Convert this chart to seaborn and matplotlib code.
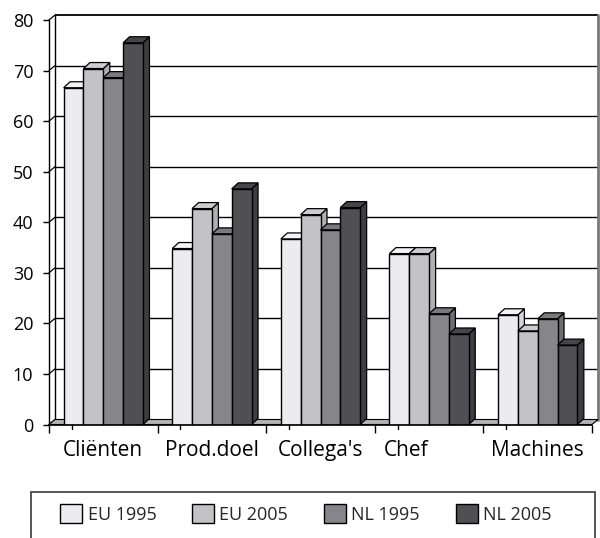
import numpy as np
import pandas as pd
import matplotlib
matplotlib.use("Agg")
import matplotlib.pyplot as plt
import seaborn as sns
from matplotlib.patches import Polygon, Patch, Rectangle
from matplotlib import transforms

# ---- data ----
categories = ["Cliënten", "Prod.doel", "Collega's", "Chef", "Machines"]
series = ["EU 1995", "EU 2005", "NL 1995", "NL 2005"]
eu_1995 = [66.6, 34.8, 36.7, 33.8, 21.7]
eu_2005 = [70.4, 42.7, 41.5, 33.8, 18.5]
nl_1995 = [68.6, 37.7, 38.5, 21.9, 20.9]
nl_2005 = [75.5, 46.6, 42.9, 17.9, 15.7]
y_ticks = [0, 10, 20, 30, 40, 50, 60, 70, 80]

front_colors = ["#ECECEE", "#C3C3C5", "#86868A", "#4F4F54"]
side_colors = ["#D6D6D8", "#B0B0B2", "#6E6E72", "#3E3E42"]
top_colors = ["#F4F4F6", "#CDCDCF", "#7A7A7E", "#46464A"]

sns.set_theme(style="white")
plt.rcParams["font.family"] = ["Open Sans", "DejaVu Sans"]

df = pd.DataFrame({
    "category": categories * 4,
    "series": sum([[s] * len(categories) for s in series], []),
    "value": eu_1995 + eu_2005 + nl_1995 + nl_2005,
})

W, H = 600, 538
fig = plt.figure(figsize=(W / 100, H / 100), dpi=100)
ax_left, ax_right, ax_bottom_px, ax_top_px = 49, 592, 424.5, 20
ax = fig.add_axes([ax_left / W, (H - ax_bottom_px) / H,
                   (ax_right - ax_left) / W, (ax_bottom_px - ax_top_px) / H])

sns.barplot(data=df, x="category", y="value", hue="series", order=categories,
            hue_order=series, palette=front_colors, width=0.73, saturation=1,
            edgecolor="black", linewidth=1, ax=ax, legend=False)

ax.set_xlim(-0.5, 4.5)
ax.set_ylim(0, 80)
for s in ax.spines.values():
    s.set_visible(False)
ax.set_xlabel("")
ax.set_ylabel("")
ax.set_facecolor("none")

# pixel -> data units
ux = 5 / (ax_right - ax_left)
uy = 80 / (ax_bottom_px - ax_top_px)
DX, DY = 6 * ux, 5 * uy          # walls
BDX, BDY = 6.5 * ux, 6 * uy      # bar depth
x0, x1 = -0.5, 4.5

# back wall
ax.add_patch(Rectangle((x0 + DX, DY), 5, 80, facecolor="white", edgecolor="none",
                       zorder=0, clip_on=False))
for v in y_ticks:
    lw = 1.3 if v == 80 else 1.0
    ax.plot([x0 + DX, x1 + DX], [v + DY, v + DY], color="black", lw=lw,
            zorder=0.5, clip_on=False, solid_capstyle="butt")
    ax.plot([x0, x0 + DX], [v, v + DY], color="black", lw=0.9, zorder=0.5, clip_on=False)
ax.plot([x0 + DX, x0 + DX], [DY, 80 + DY], color="black", lw=1, zorder=0.5, clip_on=False)
ax.plot([x1 + DX, x1 + DX], [DY, 80 + DY], color="#7a7a7a", lw=2, zorder=0.5, clip_on=False)
ax.plot([x0, x0], [0, 80], color="black", lw=1, zorder=0.6, clip_on=False)

# floor
ax.add_patch(Polygon([(x0, 0), (x1, 0), (x1 + DX, DY), (x0 + DX, DY)],
                     closed=True, facecolor="#B4B4B4", edgecolor="black", lw=0.8,
                     zorder=1, clip_on=False))

# 3D faces for bars
for k, cont in enumerate(ax.containers):
    for bar in cont:
        x, w, h = bar.get_x(), bar.get_width(), bar.get_height()
        bar.set_zorder(3 + 2 * k)
        side = Polygon([(x + w, 0), (x + w, h), (x + w + BDX, h + BDY), (x + w + BDX, BDY)],
                       closed=True, facecolor=side_colors[k], edgecolor="black",
                       lw=0.9, zorder=2 + 2 * k, clip_on=False)
        top = Polygon([(x, h), (x + w, h), (x + w + BDX, h + BDY), (x + BDX, h + BDY)],
                      closed=True, facecolor=top_colors[k], edgecolor="black",
                      lw=0.9, zorder=2 + 2 * k, clip_on=False)
        ax.add_patch(side)
        ax.add_patch(top)

# front x axis line
ax.plot([x0, x1], [0, 0], color="black", lw=1.2, zorder=20, clip_on=False)
boundaries = np.arange(-0.5, 5, 1)
for b in boundaries[:-1]:
    ax.plot([b + 0.21, b + 0.21], [0, -4 * uy], color="black", lw=1, zorder=20, clip_on=False)

# ticks
ax.set_yticks(y_ticks)
ax.set_yticklabels([str(v) for v in y_ticks])
ax.tick_params(axis="y", left=True, length=4.3, width=1, color="black",
               pad=7, labelsize=13, labelcolor="black")
ax.set_xticks(range(len(categories)))
ax.set_xticklabels(categories)
ax.set_xticks(boundaries, minor=True)
ax.tick_params(axis="x", which="major", bottom=False, length=0, pad=11,
               labelsize=15, labelcolor="black")
ax.tick_params(axis="x", which="minor", bottom=True, length=5.8, width=1, color="black")

lab = ax.get_xticklabels()[3]
lab.set_transform(lab.get_transform() + transforms.ScaledTranslation(-23 / 100, 0, fig.dpi_scale_trans))

# legend
handles = [Patch(facecolor=c, edgecolor="black", lw=1) for c in front_colors]
fig.legend(handles, series, loc="center", bbox_to_anchor=(306 / W, 1 - 514 / H),
           frameon=False, ncol=4, fontsize=13, columnspacing=2.0,
           handletextpad=0.3, handlelength=1.2, handleheight=1.2)
fig.add_artist(Rectangle((31 / W, -0.05), 564 / W, (H - 492) / H + 0.05,
                         transform=fig.transFigure, fill=False,
                         edgecolor="#3a3a3a", lw=1.2))

fig.savefig("out.png", dpi=100)
